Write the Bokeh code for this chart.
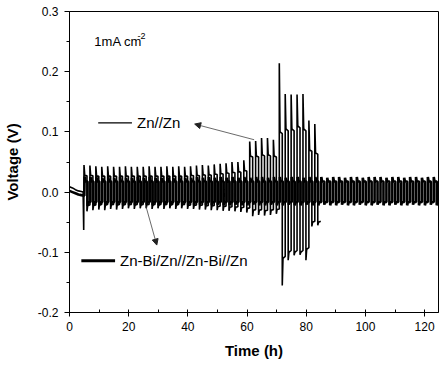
from bokeh.plotting import figure
from bokeh.models import Range1d, Label, Arrow, NormalHead, FixedTicker
from bokeh.embed import file_html
from bokeh.resources import INLINE

# ---------------- data ----------------
# Zn//Zn symmetric cell: rest period, then one entry per charge/discharge cycle
zn_rest_t = [0, 1, 2, 3, 4, 4.6, 4.8]
zn_rest_v = [0.009, 0.007, 0.004, 0.002, 0.001, 0.0, -0.063]
zn_cycle_t = [4.9 + 2 * k for k in range(40)]
zn_pos_peak = [0.045, 0.044, 0.043, 0.042, 0.043, 0.042, 0.042, 0.043, 0.042, 0.042,
               0.042, 0.043, 0.042, 0.042, 0.043, 0.042, 0.043, 0.042, 0.043, 0.044,
               0.045, 0.044, 0.046, 0.047, 0.048, 0.050, 0.050, 0.053,
               0.084, 0.085, 0.090, 0.090, 0.087,
               0.214, 0.163, 0.162, 0.162, 0.163, 0.119, 0.113]
zn_pos_plat = [0.028, 0.028, 0.027, 0.027, 0.027, 0.027, 0.027, 0.027, 0.027, 0.027,
               0.027, 0.027, 0.027, 0.027, 0.027, 0.027, 0.027, 0.027, 0.028, 0.028,
               0.029, 0.029, 0.030, 0.031, 0.032, 0.033, 0.034, 0.036,
               0.060, 0.060, 0.062, 0.062, 0.060,
               0.100, 0.105, 0.105, 0.110, 0.105, 0.070, 0.065]
zn_neg_peak = [-0.032, -0.030, -0.029, -0.030, -0.028, -0.029, -0.028, -0.027, -0.028, -0.027,
               -0.027, -0.028, -0.027, -0.028, -0.027, -0.028, -0.027, -0.028, -0.028, -0.029,
               -0.029, -0.030, -0.030, -0.031, -0.031, -0.032, -0.033, -0.034,
               -0.040, -0.038, -0.039, -0.038, -0.036,
               -0.155, -0.113, -0.105, -0.104, -0.113, -0.057, -0.055]
zn_neg_plat = [-0.022, -0.022, -0.021, -0.021, -0.021, -0.021, -0.021, -0.021, -0.021, -0.021,
               -0.021, -0.021, -0.021, -0.021, -0.021, -0.021, -0.021, -0.022, -0.022, -0.022,
               -0.023, -0.023, -0.024, -0.024, -0.025, -0.025, -0.026, -0.027,
               -0.030, -0.030, -0.031, -0.030, -0.029,
               -0.110, -0.100, -0.100, -0.100, -0.095, -0.050, -0.050]

# Zn-Bi/Zn//Zn-Bi/Zn symmetric cell
znbi_rest_t = [0, 1, 2, 3, 4, 5.0]
znbi_rest_v = [0.002, 0.000, -0.002, -0.004, -0.005, -0.006]
znbi_cycle_t = [5.1 + 2 * k for k in range(60)]
znbi_pos_peak = [0.026, 0.025, 0.025, 0.024, 0.025, 0.024, 0.025, 0.024, 0.024, 0.025,
                 0.024, 0.025, 0.024, 0.024, 0.025, 0.024, 0.025, 0.024, 0.024, 0.025,
                 0.024, 0.025, 0.024, 0.025, 0.024, 0.025, 0.024, 0.025, 0.024, 0.025,
                 0.025, 0.024, 0.025, 0.025, 0.024, 0.025, 0.025, 0.024, 0.025, 0.025,
                 0.025, 0.024, 0.025, 0.025, 0.024, 0.025, 0.025, 0.024, 0.025, 0.025,
                 0.025, 0.024, 0.025, 0.025, 0.024, 0.025, 0.025, 0.024, 0.025, 0.025]
znbi_pos_plat = [0.018] * 60
znbi_neg_peak = [-0.023, -0.022, -0.022, -0.022, -0.021, -0.022, -0.022, -0.021, -0.022, -0.022,
                 -0.021, -0.022, -0.022, -0.021, -0.022, -0.022, -0.021, -0.022, -0.022, -0.021,
                 -0.022, -0.022, -0.021, -0.022, -0.022, -0.021, -0.022, -0.022, -0.021, -0.022,
                 -0.022, -0.021, -0.022, -0.022, -0.021, -0.022, -0.022, -0.021, -0.022, -0.022,
                 -0.021, -0.022, -0.022, -0.021, -0.022, -0.022, -0.021, -0.022, -0.022, -0.021,
                 -0.022, -0.022, -0.021, -0.022, -0.022, -0.021, -0.022, -0.022, -0.021, -0.022]
znbi_neg_plat = [-0.017] * 60

x_ticks = [0, 20, 40, 60, 80, 100, 120]
y_ticks = [-0.2, -0.1, 0.0, 0.1, 0.2, 0.3]
y_tick_labels = {-0.2: "-0.2", -0.1: "-0.1", 0.0: "0.0", 0.1: "0.1", 0.2: "0.2", 0.3: "0.3"}


def build_profile(rest_t, rest_v, cyc_t, pp, ppl, npk, npl):
    xs, ys = list(rest_t), list(rest_v)
    for t, a, b, c, d in zip(cyc_t, pp, ppl, npk, npl):
        xs += [t, t + 0.25, t + 1.0, t + 1.0, t + 1.25, t + 2.0]
        ys += [a, b, b * 0.97, c, d, d * 0.97]
    return xs, ys


zn_x, zn_y = build_profile(zn_rest_t, zn_rest_v, zn_cycle_t,
                           zn_pos_peak, zn_pos_plat, zn_neg_peak, zn_neg_plat)
bi_x, bi_y = build_profile(znbi_rest_t, znbi_rest_v, znbi_cycle_t,
                           znbi_pos_peak, znbi_pos_plat, znbi_neg_peak, znbi_neg_plat)

FONT = "Liberation Sans"

p = figure(width=444, height=366, output_backend="svg", toolbar_location=None,
           x_range=Range1d(0, 124.7), y_range=Range1d(-0.2, 0.3),
           min_border_left=67, min_border_right=6, min_border_top=11, min_border_bottom=54)
p.background_fill_color = "white"
p.border_fill_color = "white"
p.outline_line_color = "black"
p.outline_line_width = 1
p.xgrid.visible = False
p.ygrid.visible = False

# series
p.line(bi_x, bi_y, line_color="black", line_width=2.6)
p.line(zn_x, zn_y, line_color="black", line_width=1.6)

# axes
p.xaxis.ticker = FixedTicker(ticks=x_ticks, minor_ticks=[10, 30, 50, 70, 90, 110])
p.yaxis.ticker = FixedTicker(ticks=y_ticks, minor_ticks=[-0.15, -0.05, 0.05, 0.15, 0.25])
p.yaxis.major_label_overrides = y_tick_labels
for ax in (p.xaxis[0], p.yaxis[0]):
    ax.axis_line_color = "black"
    ax.major_tick_line_color = "black"
    ax.minor_tick_line_color = "black"
    ax.major_label_text_font = FONT
    ax.major_label_text_font_size = "12px"
    ax.major_label_text_color = "black"
    ax.axis_label_text_font = FONT
    ax.axis_label_text_font_style = "bold"
    ax.axis_label_text_font_size = "15px"
    ax.axis_label_text_color = "black"

p.xaxis.axis_label = "Time (h)"
p.xaxis.major_tick_out = 4
p.xaxis.major_tick_in = 3
p.xaxis.minor_tick_out = 0
p.xaxis.minor_tick_in = 3
p.xaxis.major_label_standoff = 5
p.xaxis.axis_label_standoff = 8

p.yaxis.axis_label = "Voltage (V)"
p.yaxis.major_tick_out = 5
p.yaxis.major_tick_in = 0
p.yaxis.minor_tick_out = 3
p.yaxis.minor_tick_in = 0
p.yaxis.major_label_standoff = 6
p.yaxis.axis_label_standoff = 14

# annotations
p.add_layout(Label(x=8.4, y=0.25, text="1mA cm", text_font=FONT, text_font_size="13px",
                   text_baseline="middle", text_color="black"))
p.add_layout(Label(x=23.0, y=0.26, text="-2", text_font=FONT, text_font_size="9px",
                   text_baseline="middle", text_color="black"))

p.line([9.7, 21.1], [0.115, 0.115], line_color="black", line_width=1.2)
p.add_layout(Label(x=22.8, y=0.115, text="Zn//Zn", text_font=FONT, text_font_size="15px",
                   text_baseline="middle", text_color="black"))
p.line([4.0, 15.4], [-0.114, -0.114], line_color="black", line_width=2.8)
p.add_layout(Label(x=17.1, y=-0.114, text="Zn-Bi/Zn//Zn-Bi//Zn", text_font=FONT,
                   text_font_size="15px", text_baseline="middle", text_color="black"))

p.add_layout(Arrow(end=NormalHead(size=6, fill_color="#222", line_color="#222"),
                   x_start=62.4, y_start=0.087, x_end=42.3, y_end=0.113,
                   line_color="#444", line_width=0.8))
p.add_layout(Arrow(end=NormalHead(size=6, fill_color="#222", line_color="#222"),
                   x_start=25.8, y_start=-0.023, x_end=29.5, y_end=-0.088,
                   line_color="#444", line_width=0.8))

open("out.html", "w").write(file_html(p, INLINE))
